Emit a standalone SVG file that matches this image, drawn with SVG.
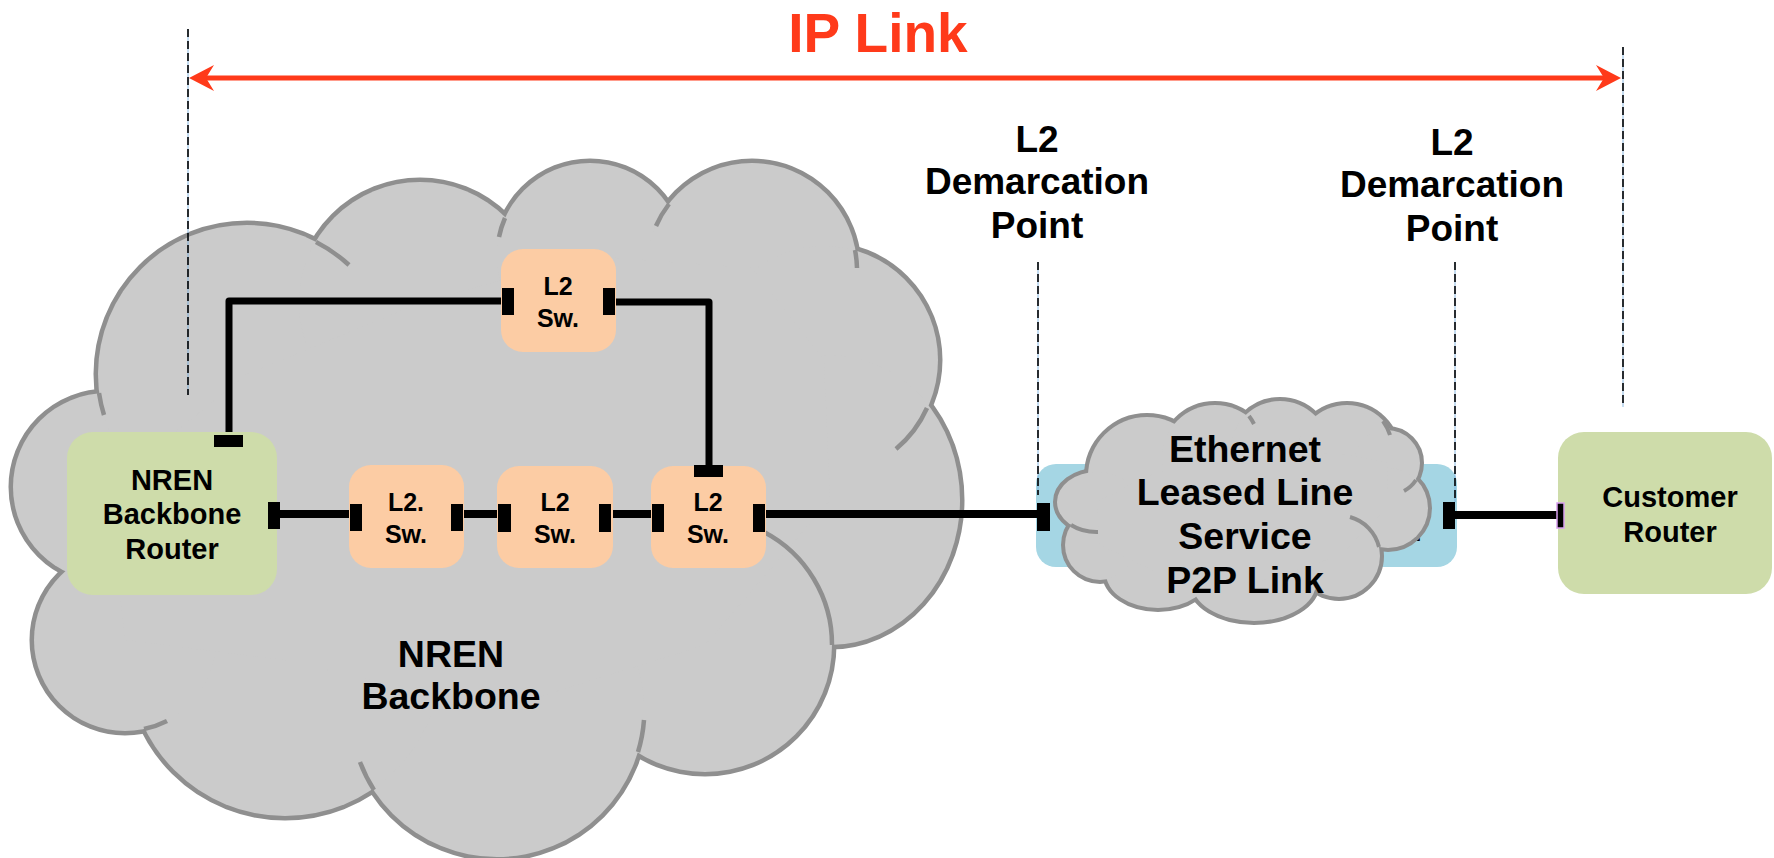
<svg xmlns="http://www.w3.org/2000/svg" width="1774" height="858" viewBox="0 0 1774 858">
<style>
.t{font-family:"Liberation Sans",Arial,Helvetica,sans-serif;font-weight:bold;fill:#000;text-anchor:middle}
.cs{fill:#cbcbcb;stroke:#8f8f8f;stroke-width:9}
.cf{fill:#cbcbcb;stroke:none}
.ci{fill:none;stroke:#8f8f8f;stroke-width:4.5}
.ss{fill:#cbcbcb;stroke:#8f8f8f;stroke-width:8}
.si{fill:none;stroke:#8f8f8f;stroke-width:4}
.sw{fill:#fccca4}
.rt{fill:#cedcaa}
.port{fill:#000}
.ln{stroke:#000;stroke-width:8;fill:none}
.ln2{stroke:#000;stroke-width:7;fill:none;stroke-linejoin:round}
.dl{stroke:#000;stroke-width:1.6;stroke-dasharray:8 4;fill:none}
.db{stroke:#6fa8dc;stroke-width:0.8;fill:none}
</style>
<defs>
<marker id="ah" viewBox="-15 -14 27 28" refX="0" refY="0" markerWidth="27" markerHeight="28" markerUnits="userSpaceOnUse" orient="auto-start-reverse">
<path d="M11,0 L-14,-13 L-6,0 L-14,13 Z" fill="#ff3a1a"/>
</marker>
</defs>
<rect width="1774" height="858" fill="#fff"/>

<g id="nren-backbone">
<g>
<circle class="cs" cx="107" cy="487" r="94"/>
<circle class="cs" cx="247" cy="374" r="149"/>
<circle class="cs" cx="420" cy="303" r="121"/>
<circle class="cs" cx="590" cy="256" r="93"/>
<circle class="cs" cx="752" cy="268" r="105"/>
<circle class="cs" cx="824" cy="360" r="114"/>
<ellipse class="cs" cx="830" cy="500" rx="130" ry="145"/>
<circle class="cs" cx="705" cy="645" r="127"/>
<circle class="cs" cx="497" cy="710" r="147"/>
<circle class="cs" cx="285" cy="660" r="156"/>
<circle class="cs" cx="125" cy="640" r="91"/>
</g>
<g>
<circle class="cf" cx="107" cy="487" r="94"/>
<circle class="cf" cx="247" cy="374" r="149"/>
<circle class="cf" cx="420" cy="303" r="121"/>
<circle class="cf" cx="590" cy="256" r="93"/>
<circle class="cf" cx="752" cy="268" r="105"/>
<circle class="cf" cx="824" cy="360" r="114"/>
<ellipse class="cf" cx="830" cy="500" rx="130" ry="145"/>
<circle class="cf" cx="705" cy="645" r="127"/>
<circle class="cf" cx="497" cy="710" r="147"/>
<circle class="cf" cx="285" cy="660" r="156"/>
<circle class="cf" cx="125" cy="640" r="91"/>
<polygon class="cf" points="107,487 247,374 420,303 590,256 752,268 824,360 830,500 705,645 497,710 285,660 125,640"/>
</g>
<path class="ci" d="M99,393 A149,149 0 0 0 104,415"/>
<path class="ci" d="M316,242 A149,149 0 0 1 349,265"/>
<path class="ci" d="M505,218 A93,93 0 0 0 499,237"/>
<path class="ci" d="M669,204 A105,105 0 0 0 656,226"/>
<path class="ci" d="M855,250 A105,105 0 0 1 857,268"/>
<path class="ci" d="M927,408 A114,114 0 0 1 896,449"/>
<path class="ci" d="M832,645 A127,127 0 0 0 764,532"/>
<path class="ci" d="M638,752 A147,147 0 0 0 644,720"/>
<path class="ci" d="M374,790 A147,147 0 0 1 360,762"/>
<path class="ci" d="M144,729 A91,91 0 0 0 167,721"/>
<text class="t" x="451" y="667" font-size="37.5">NREN</text>
<text class="t" x="451" y="709" font-size="37.5">Backbone</text>
</g>

<g id="ells-service">
<rect x="1036" y="464" width="421" height="103" rx="20" fill="#a5d6e4"/>
<text class="t" x="1418" y="541" font-size="24">.</text>
<g>
<circle class="ss" cx="1147" cy="476" r="59"/>
<circle class="ss" cx="1215" cy="458" r="53"/>
<circle class="ss" cx="1280" cy="450" r="49"/>
<circle class="ss" cx="1347" cy="455" r="50"/>
<circle class="ss" cx="1387" cy="463" r="33"/>
<circle class="ss" cx="1388" cy="508" r="40"/>
<circle class="ss" cx="1339" cy="556" r="41"/>
<ellipse class="ss" cx="1254" cy="583" rx="62" ry="38"/>
<ellipse class="ss" cx="1158" cy="573" rx="52" ry="35"/>
<circle class="ss" cx="1100" cy="545" r="35"/>
<ellipse class="ss" cx="1097" cy="502" rx="40" ry="30"/>
</g>
<g>
<circle class="cf" cx="1147" cy="476" r="59"/>
<circle class="cf" cx="1215" cy="458" r="53"/>
<circle class="cf" cx="1280" cy="450" r="49"/>
<circle class="cf" cx="1347" cy="455" r="50"/>
<circle class="cf" cx="1387" cy="463" r="33"/>
<circle class="cf" cx="1388" cy="508" r="40"/>
<circle class="cf" cx="1339" cy="556" r="41"/>
<ellipse class="cf" cx="1254" cy="583" rx="62" ry="38"/>
<ellipse class="cf" cx="1158" cy="573" rx="52" ry="35"/>
<circle class="cf" cx="1100" cy="545" r="35"/>
<ellipse class="cf" cx="1097" cy="502" rx="40" ry="30"/>
<polygon class="cf" points="1147,476 1215,458 1280,450 1347,455 1387,463 1388,508 1339,556 1254,583 1158,573 1100,545 1097,502"/>
</g>
<path class="si" d="M1071,525 A40,30 0 0 0 1098,532"/>
<path class="si" d="M1383,421 A50,50 0 0 1 1390,435"/>
<path class="si" d="M1416,480 A33,33 0 0 1 1404,491"/>
<path class="si" d="M1249,416 A53,53 0 0 1 1254,424"/>
<path class="si" d="M1379,547 A41,41 0 0 0 1350,517"/>
<text class="t" x="1245" y="462" font-size="37.5">Ethernet</text>
<text class="t" x="1245" y="505" font-size="37.5">Leased Line</text>
<text class="t" x="1245" y="549" font-size="37.5">Service</text>
<text class="t" x="1245" y="593" font-size="37.5">P2P Link</text>
<rect class="port" x="1037" y="503" width="13" height="28"/>
<rect class="port" x="1443" y="502" width="12" height="27"/>
</g>

<g id="connectors">
<line class="ln" x1="280" y1="514" x2="350" y2="514"/>
<line class="ln" x1="463" y1="514" x2="498" y2="514"/>
<line class="ln" x1="611" y1="514" x2="652" y2="514"/>
<line class="ln" x1="765" y1="514" x2="1037" y2="514"/>
<line class="ln" x1="1455" y1="515" x2="1557" y2="515"/>
<polyline class="ln2" points="229,435 229,301 502,301"/>
<polyline class="ln2" points="615,302 709,302 709,465"/>
<line x1="200" y1="78" x2="1610" y2="78" stroke="#ff3a1a" stroke-width="5" marker-start="url(#ah)" marker-end="url(#ah)"/>
</g>

<g id="nren-router">
<rect class="rt" x="67" y="432" width="210" height="163" rx="26"/>
<text class="t" x="172" y="490" font-size="29">NREN</text>
<text class="t" x="172" y="524" font-size="29">Backbone</text>
<text class="t" x="172" y="559" font-size="29">Router</text>
<rect class="port" x="214" y="435" width="29" height="12"/>
<rect class="port" x="268" y="502" width="12" height="27"/>
</g>

<g id="sw-top">
<rect class="sw" x="501" y="249" width="115" height="103" rx="22"/>
<text class="t" x="558" y="295" font-size="25">L2</text>
<text class="t" x="558" y="327" font-size="25">Sw.</text>
<rect class="port" x="502" y="288" width="12" height="27"/>
<rect class="port" x="603" y="288" width="12" height="27"/>
</g>

<g id="sw-1">
<rect class="sw" x="349" y="465" width="115" height="103" rx="22"/>
<text class="t" x="406" y="511" font-size="25">L2.</text>
<text class="t" x="406" y="543" font-size="25">Sw.</text>
<rect class="port" x="350" y="504" width="12" height="27"/>
<rect class="port" x="451" y="504" width="12" height="27"/>
</g>

<g id="sw-2">
<rect class="sw" x="497" y="466" width="116" height="102" rx="22"/>
<text class="t" x="555" y="511" font-size="25">L2</text>
<text class="t" x="555" y="543" font-size="25">Sw.</text>
<rect class="port" x="498" y="504" width="13" height="28"/>
<rect class="port" x="599" y="504" width="12" height="28"/>
</g>

<g id="sw-3">
<rect class="sw" x="651" y="466" width="115" height="102" rx="22"/>
<text class="t" x="708" y="511" font-size="25">L2</text>
<text class="t" x="708" y="543" font-size="25">Sw.</text>
<rect class="port" x="652" y="504" width="12" height="28"/>
<rect class="port" x="753" y="504" width="12" height="28"/>
<rect class="port" x="694" y="465" width="29" height="12"/>
</g>

<g id="customer-router">
<rect class="rt" x="1558" y="432" width="214" height="162" rx="26"/>
<text class="t" x="1670" y="507" font-size="29">Customer</text>
<text class="t" x="1670" y="542" font-size="29">Router</text>
<rect x="1557" y="503" width="7" height="25" fill="#000" stroke="#d9a0f0" stroke-width="1.5"/>
</g>

<g id="guides">
<line class="db" x1="188" y1="29" x2="188" y2="395"/>
<line class="dl" x1="188" y1="29" x2="188" y2="395"/>
<line class="db" x1="1623" y1="47" x2="1623" y2="407"/>
<line class="dl" x1="1623" y1="47" x2="1623" y2="407"/>
<line class="db" x1="1038" y1="262" x2="1038" y2="495"/>
<line class="dl" x1="1038" y1="262" x2="1038" y2="495"/>
<line class="db" x1="1455" y1="262" x2="1455" y2="502"/>
<line class="dl" x1="1455" y1="262" x2="1455" y2="502"/>
</g>

<g id="ip-link-label">
<text class="t" x="878" y="52" font-size="55" style="fill:#ff3a1a">IP Link</text>
</g>
<g id="demarc-1">
<text class="t" x="1037" y="152" font-size="37">L2</text>
<text class="t" x="1037" y="194" font-size="37">Demarcation</text>
<text class="t" x="1037" y="238" font-size="37">Point</text>
</g>
<g id="demarc-2">
<text class="t" x="1452" y="155" font-size="37">L2</text>
<text class="t" x="1452" y="197" font-size="37">Demarcation</text>
<text class="t" x="1452" y="241" font-size="37">Point</text>
</g>
</svg>
